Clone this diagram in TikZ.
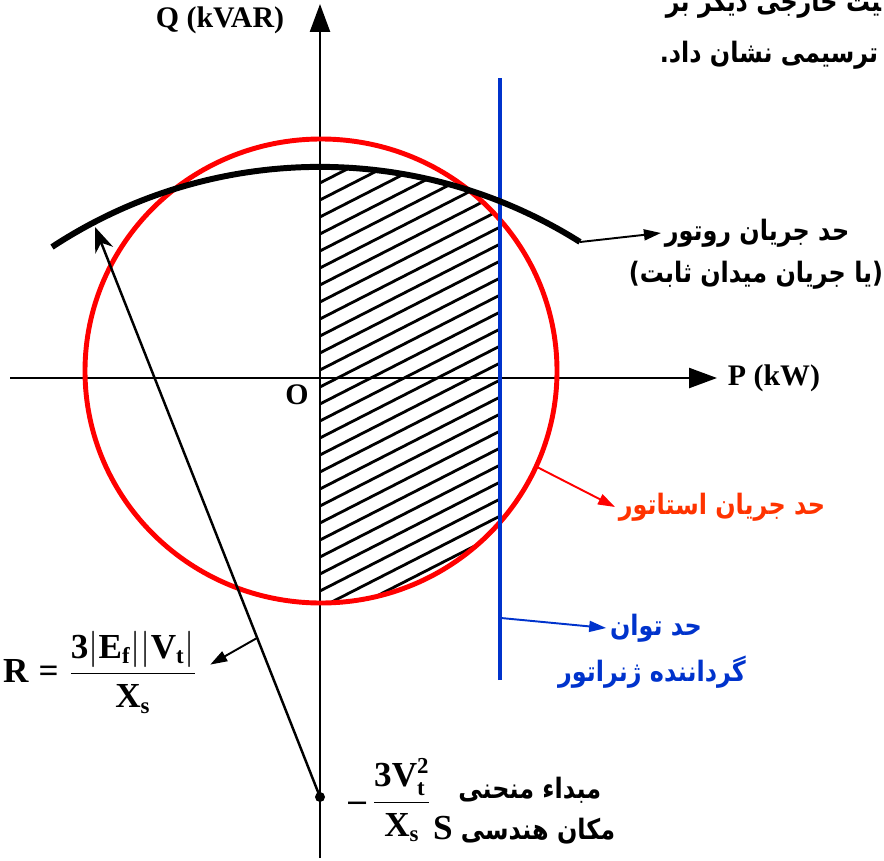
\documentclass[tikz,border=0pt]{standalone}
\usepackage{fontspec}
\setmainfont{Liberation Serif}
\newfontfamily\fafont[Script=Arabic, FakeStretch=0.85]{DejaVu Sans}
\TeXXeTstate=1
\usetikzlibrary{arrows.meta}
\definecolor{limred}{RGB}{255,0,0}
\definecolor{txtred}{RGB}{255,51,0}
\definecolor{limblue}{RGB}{0,51,204}
\newcommand{\sbx}[1]{\mbox{\fontsize{13}{15}\selectfont #1}}

\begin{document}
\begin{tikzpicture}[x=0.02cm, y=0.02cm,
  axis/.style={line width=1.4pt, -{Triangle[length=0.56cm, width=0.4cm]}},
  arr/.style={line width=1.1pt, -{Triangle[length=0.34cm, width=0.22cm]}},
  hatch/.style={line width=1.6pt},
  lat/.style={font={\bfseries\fontsize{17}{20}\selectfont}, inner sep=0pt},
  fa/.style={font={\fafont\bfseries\fontsize{16}{24}\selectfont}, inner sep=2pt},
  frm/.style={font={\bfseries\fontsize{20}{24}\selectfont}, inner sep=0pt}
]
\useasboundingbox (0,0) rectangle (884,860);
\clip (0,0) rectangle (884,860);

\coordinate (O) at (320,482);
\coordinate (xs) at (10,482);
\coordinate (xe) at (717,482);
\coordinate (ys) at (320,2);
\coordinate (ye) at (320,856);
\coordinate (cS) at (321,489);
\coordinate (cR) at (320,205);
\coordinate (arcL) at (52,613);
\coordinate (arcR) at (580,618);
\coordinate (bt) at (500,782);
\coordinate (bb) at (500,180);
\coordinate (org) at (320,63);
\coordinate (tipR) at (95,633);
\coordinate (statS) at (537,393);
\coordinate (powS) at (501,242);
\coordinate (Rs) at (257,222);

% hatched operating region
\begin{scope}
  \clip (320,0) rectangle (500,860);
  \clip (cS) ellipse [x radius=236, y radius=232];
  \clip (cR) circle [radius=488];
  \foreach \k in {0,...,27}
    \draw[hatch] (316,675-17*\k) -- ++(190,97);
\end{scope}

\draw[axis] (xs) -- (xe);
\draw[axis] (ys) -- (ye);
\draw[limred, line width=2.8pt] (cS) ellipse [x radius=236, y radius=232];
\draw[limblue, line width=2.8pt] (bb) -- (bt);
\draw[line width=3.4pt] (arcL) arc[start angle=123.3, end angle=57.8, radius=488];
\draw[line width=1.4pt, -{Stealth[length=0.5cm, width=0.38cm]}] (org) -- (tipR);
\fill (org) circle [radius=5];

\node[lat] (Qlbl) at (220,840) {Q (kVAR)};
\node[lat] (Plbl) at (774,482) {P (kW)};
\node[lat] (Olbl) at (297,465) {O};

\node[fa] (rot1) at (757,627) {\beginR حد جریان روتور\endR};
\node[fa] (rot2) at (756,585) {\beginR(یا جریان میدان ثابت)\endR};
\draw[arr] (arcR) -- (rot1.west);

\node[fa, text=txtred] (stat) at (722,353) {\beginR حد جریان استاتور\endR};
\draw[arr, limred] (statS) -- (stat.west);

\node[fa, text=limblue] (pow1) at (656,232) {\beginR حد توان\endR};
\node[fa, text=limblue] (pow2) at (652,188) {\beginR گرداننده ژنراتور\endR};
\draw[arr, limblue] (powS) -- (pow1.west);

\node[frm] (Rf) at (100,188) {$\mbox{R}\mathrel{\mbox{=}}\displaystyle\frac{\mbox{3}|\mbox{E}_{\sbx{f}}||\mbox{V}_{\sbx{t}}|}{\mbox{X}_{\sbx{s}}}$};
\draw[arr, shorten >=0.3cm] (Rs) -- (Rf.east);

\node[frm] (orgf) at (390,60) {$\mbox{–}\,\displaystyle\frac{\mbox{3V}_{\sbx{t}}^{\sbx{2}}}{\mbox{X}_{\sbx{s}}}$};
\node[fa, anchor=east] (org1) at (605,70) {\beginR مبداء منحنی\endR};
\node[fa, anchor=east] (org2) at (619,30) {{\rmfamily\fontsize{20}{24}\selectfont S}\ \beginR مکان هندسی\endR};

\node[fa, anchor=base west] (top1) at (662,848) {\beginR ^^^^200dیت خارجی دیگر بر\endR};
\node[fa, anchor=base east] (top2) at (882,797) {.\beginR ترسیمی نشان داد\endR};
\end{tikzpicture}
\end{document}
